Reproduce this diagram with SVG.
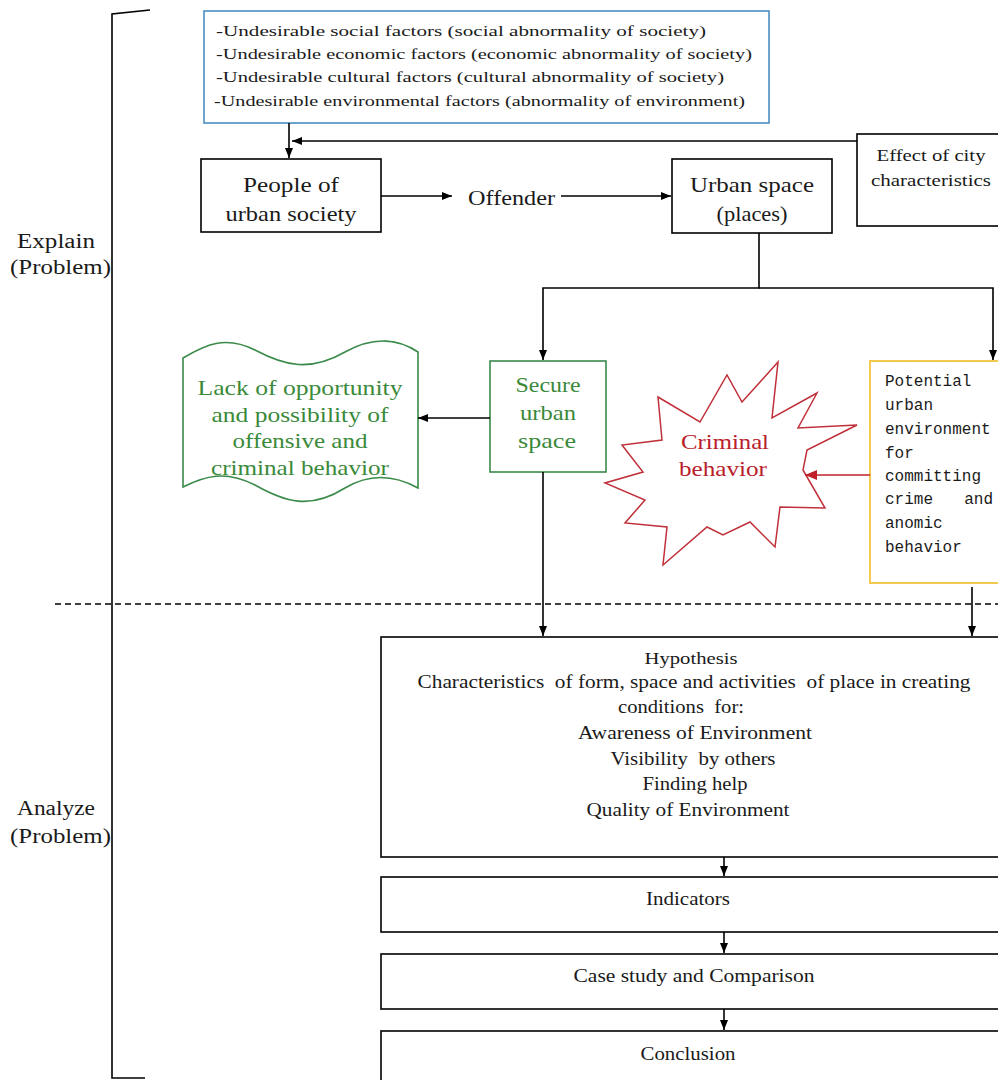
<svg xmlns="http://www.w3.org/2000/svg" width="998" height="1080" viewBox="0 0 998 1080">
<defs>
<marker id="ah" markerWidth="10" markerHeight="8" refX="10" refY="4" orient="auto" markerUnits="userSpaceOnUse"><path d="M0,0 L10,4 L0,8 Z" fill="#000"/></marker>
<marker id="ahr" markerWidth="12" markerHeight="10" refX="12" refY="5" orient="auto" markerUnits="userSpaceOnUse"><path d="M0,0 L12,5 L0,10 Z" fill="#c0202a"/></marker>
<style>
.t{font-family:'Liberation Serif','DejaVu Serif',serif;fill:#1a1a1a}
.box{fill:#fff;stroke:#000;stroke-width:1.6}
.c{text-anchor:middle}
.ln{fill:none;stroke:#000;stroke-width:1.6}
.g{fill:#3a8a3a}
.r{fill:#b8202a}
.m{font-family:'Liberation Mono','Courier New',monospace;font-size:16px;fill:#1a1a1a}
</style>
</defs>
<rect width="998" height="1080" fill="#fff"/>

<g id="bracket">
<path class="ln" d="M150,10 L112,14 L112,1078 L145,1078"/>
</g>
<g id="label-explain" class="t" font-family="Liberation Serif, serif">
<text x="17" y="248" font-size="20" textLength="78" lengthAdjust="spacingAndGlyphs">Explain</text>
<text x="10" y="274" font-size="20" textLength="101" lengthAdjust="spacingAndGlyphs">(Problem)</text>
</g>
<g id="label-analyze" class="t" font-family="Liberation Serif, serif">
<text x="17" y="815" font-size="20" textLength="78" lengthAdjust="spacingAndGlyphs">Analyze</text>
<text x="10" y="843" font-size="20" textLength="101" lengthAdjust="spacingAndGlyphs">(Problem)</text>
</g>

<g id="factors" class="t" font-family="Liberation Serif, serif">
<rect x="204" y="11" width="565" height="112" fill="#fff" stroke="#4a8fc4" stroke-width="1.6"/>
<text x="216" y="36" font-size="15" textLength="490" lengthAdjust="spacingAndGlyphs">-Undesirable social factors (social abnormality of society)</text>
<text x="216" y="59" font-size="15" textLength="536" lengthAdjust="spacingAndGlyphs">-Undesirable economic factors (economic abnormality of society)</text>
<text x="216" y="82" font-size="15" textLength="508" lengthAdjust="spacingAndGlyphs">-Undesirable cultural factors (cultural abnormality of society)</text>
<text x="214" y="106" font-size="15" textLength="531" lengthAdjust="spacingAndGlyphs">-Undesirable environmental factors (abnormality of environment)</text>
</g>

<g id="effect" class="t" font-family="Liberation Serif, serif">
<rect class="box" x="857" y="134" width="150" height="92"/>
<text class="c" x="931" y="161" font-size="16" textLength="109" lengthAdjust="spacingAndGlyphs">Effect of city</text>
<text class="c" x="931" y="186" font-size="16" textLength="120" lengthAdjust="spacingAndGlyphs">characteristics</text>
</g>

<g id="people" class="t" font-family="Liberation Serif, serif">
<rect class="box" x="201" y="159" width="180" height="73"/>
<text class="c" x="291" y="192" font-size="22" textLength="96" lengthAdjust="spacingAndGlyphs">People of</text>
<text class="c" x="291" y="221" font-size="22" textLength="131" lengthAdjust="spacingAndGlyphs">urban society</text>
</g>

<g id="offender" class="t" font-family="Liberation Serif, serif">
<text x="468" y="205" font-size="22" textLength="87" lengthAdjust="spacingAndGlyphs">Offender</text>
</g>

<g id="urban" class="t" font-family="Liberation Serif, serif">
<rect class="box" x="672" y="159" width="160" height="74"/>
<text class="c" x="752" y="192" font-size="22" textLength="124" lengthAdjust="spacingAndGlyphs">Urban space</text>
<text class="c" x="752" y="221" font-size="22" textLength="71" lengthAdjust="spacingAndGlyphs">(places)</text>
</g>

<g id="secure" class="t" font-family="Liberation Serif, serif">
<rect x="490" y="361" width="116" height="111" fill="#fff" stroke="#3a8a4a" stroke-width="1.6"/>
<text class="c g" x="548" y="392" font-size="22" textLength="65" lengthAdjust="spacingAndGlyphs">Secure</text>
<text class="c g" x="548" y="420" font-size="22" textLength="56" lengthAdjust="spacingAndGlyphs">urban</text>
<text class="c g" x="547" y="448" font-size="22" textLength="58" lengthAdjust="spacingAndGlyphs">space</text>
</g>

<g id="lack" class="t" font-family="Liberation Serif, serif">
<path d="M183,358 C205,345 225,335 255,350 C285,366 310,372 345,352 C375,335 400,340 418,352 L418,488 C400,478 375,470 345,488 C310,510 285,502 255,485 C225,470 205,476 183,487 Z" fill="#fff" stroke="#3a8a4a" stroke-width="1.6"/>
<text class="c g" x="300" y="395" font-size="22" textLength="205" lengthAdjust="spacingAndGlyphs">Lack of opportunity</text>
<text class="c g" x="300" y="422" font-size="22" textLength="177" lengthAdjust="spacingAndGlyphs">and possibility of</text>
<text class="c g" x="300" y="448" font-size="22" textLength="135" lengthAdjust="spacingAndGlyphs">offensive and</text>
<text class="c g" x="300" y="475" font-size="22" textLength="178" lengthAdjust="spacingAndGlyphs">criminal behavior</text>
</g>

<g id="criminal" class="t" font-family="Liberation Serif, serif">
<polygon points="658,397 700,422 727,375 742,402 778,362 772,418 817,393 798,428 857,425 807,450 803,470 825,508 780,507 775,547 750,522 723,535 707,527 663,565 667,527 625,523 645,500 605,483 643,472 622,445 662,440" fill="#fff" stroke="#c0303a" stroke-width="1.5"/>
<text class="c r" x="725" y="449" font-size="22" textLength="88" lengthAdjust="spacingAndGlyphs">Criminal</text>
<text class="c r" x="723" y="476" font-size="22" textLength="88" lengthAdjust="spacingAndGlyphs">behavior</text>
</g>

<g id="potential">
<rect x="870" y="361" width="140" height="222" fill="#fff" stroke="#f2c43c" stroke-width="1.8"/>
<text class="m" x="885" y="386">Potential</text>
<text class="m" x="885" y="410">urban</text>
<text class="m" x="885" y="434">environment</text>
<text class="m" x="885" y="458">for</text>
<text class="m" x="885" y="481">committing</text>
<text class="m" x="885" y="504">crime</text>
<text class="m" x="993" y="504" text-anchor="end">and</text>
<text class="m" x="885" y="528">anomic</text>
<text class="m" x="885" y="552">behavior</text>
</g>

<g id="divider">
<line x1="55" y1="604" x2="998" y2="604" stroke="#000" stroke-width="1.5" stroke-dasharray="6,4"/>
</g>

<g id="hypothesis" class="t" font-family="Liberation Serif, serif">
<rect class="box" x="381" y="637" width="630" height="220"/>
<text class="c" x="691" y="664" font-size="17" textLength="93" lengthAdjust="spacingAndGlyphs">Hypothesis</text>
<text class="c" x="694" y="688" font-size="19" textLength="553" lengthAdjust="spacingAndGlyphs" xml:space="preserve">Characteristics  of form, space and activities  of place in creating</text>
<text class="c" x="681" y="713" font-size="19" textLength="126" lengthAdjust="spacingAndGlyphs" xml:space="preserve">conditions  for:</text>
<text class="c" x="695" y="739" font-size="19" textLength="234" lengthAdjust="spacingAndGlyphs">Awareness of Environment</text>
<text class="c" x="693" y="765" font-size="19" textLength="165" lengthAdjust="spacingAndGlyphs" xml:space="preserve">Visibility  by others</text>
<text class="c" x="695" y="790" font-size="19" textLength="105" lengthAdjust="spacingAndGlyphs">Finding help</text>
<text class="c" x="688" y="816" font-size="19" textLength="203" lengthAdjust="spacingAndGlyphs">Quality of Environment</text>
</g>

<g id="indicators" class="t" font-family="Liberation Serif, serif">
<rect class="box" x="381" y="877" width="630" height="55"/>
<text class="c" x="688" y="905" font-size="18" textLength="84" lengthAdjust="spacingAndGlyphs">Indicators</text>
</g>

<g id="case" class="t" font-family="Liberation Serif, serif">
<rect class="box" x="381" y="954" width="630" height="55"/>
<text class="c" x="694" y="982" font-size="18" textLength="241" lengthAdjust="spacingAndGlyphs">Case study and Comparison</text>
</g>

<g id="conclusion" class="t" font-family="Liberation Serif, serif">
<rect class="box" x="381" y="1031" width="630" height="60"/>
<text class="c" x="688" y="1060" font-size="18" textLength="95" lengthAdjust="spacingAndGlyphs">Conclusion</text>
</g>

<g id="connectors">
<line class="ln" x1="289" y1="123" x2="289" y2="158" marker-end="url(#ah)"/>
<line class="ln" x1="857" y1="141" x2="292" y2="141" marker-end="url(#ah)"/>
<line class="ln" x1="381" y1="196" x2="452" y2="196" marker-end="url(#ah)"/>
<line class="ln" x1="561" y1="196" x2="671" y2="196" marker-end="url(#ah)"/>
<path class="ln" d="M759,233 L759,288 L543,288 L543,360" marker-end="url(#ah)"/>
<path class="ln" d="M759,288 L993,288 L993,360" marker-end="url(#ah)"/>
<line class="ln" x1="490" y1="418" x2="418" y2="418" marker-end="url(#ah)"/>
<line x1="870" y1="475" x2="805" y2="475" stroke="#c0202a" stroke-width="1.6" marker-end="url(#ahr)"/>
<line class="ln" x1="543" y1="472" x2="543" y2="636" marker-end="url(#ah)"/>
<line class="ln" x1="972" y1="587" x2="972" y2="636" marker-end="url(#ah)"/>
<line class="ln" x1="724" y1="857" x2="724" y2="876" marker-end="url(#ah)"/>
<line class="ln" x1="724" y1="932" x2="724" y2="953" marker-end="url(#ah)"/>
<line class="ln" x1="724" y1="1009" x2="724" y2="1030" marker-end="url(#ah)"/>
</g>
</svg>
